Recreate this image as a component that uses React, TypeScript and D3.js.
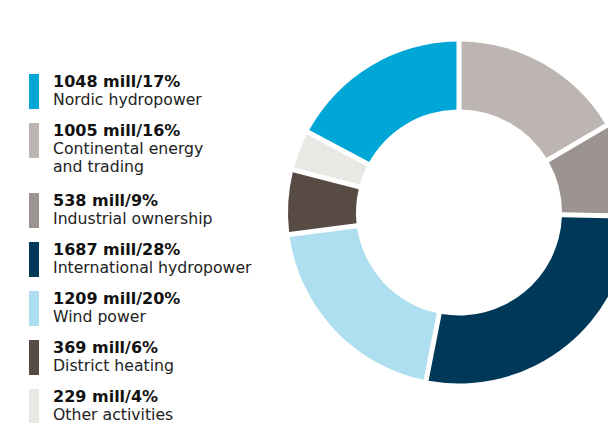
import React from 'react';
import * as d3 from 'd3';

// legend order
const labels = [
  ['Nordic hydropower'],
  ['Continental energy', 'and trading'],
  ['Industrial ownership'],
  ['International hydropower'],
  ['Wind power'],
  ['District heating'],
  ['Other activities'],
];
const values = [1048, 1005, 538, 1687, 1209, 369, 229];
const shares = [17, 16, 9, 28, 20, 6, 4];
const colors = ['#00a7d6', '#bcb5b1', '#9c9490', '#003859', '#aedff0', '#574b43', '#e9e8e4'];

const W = 608;
const H = 423;

const App = () => {
  const cx = 459;
  const cy = 212.5;
  const outer = 171;
  const inner = 103;

  const total = d3.sum(values);
  // Nordic slice ends at 12 o'clock, the rest follow clockwise from there
  const offset = (values[0] / total) * 2 * Math.PI;
  const pie = d3.pie<number>()
    .sort(null)
    .value(d => d)
    .startAngle(-offset)
    .endAngle(2 * Math.PI - offset);
  const arc = d3.arc<d3.PieArcDatum<number>>()
    .innerRadius(inner)
    .outerRadius(outer)
    .padRadius(outer)
    .padAngle(5 / outer);
  const slices = pie(values);

  // legend rows: 49px per item, 21px more for each extra text line
  const rowTop: number[] = [];
  let y = 74;
  labels.forEach(l => {
    rowTop.push(y);
    y += 49 + 21 * (l.length - 1);
  });

  return (
    <svg width={W} height={H} style={{ position: 'absolute', left: 0, top: 0, background: '#fff' }}>
      <g transform={`translate(${cx},${cy})`}>
        {slices.map((s, i) => (
          <path key={i} d={arc(s) || ''} fill={colors[i]} />
        ))}
      </g>
      <g fontFamily="'DejaVu Sans', sans-serif" fill="#1a1a1a">
        {labels.map((l, i) => (
          <g key={i} transform={`translate(0,${rowTop[i]})`}>
            <rect x={29} y={0} width={10} height={35} fill={colors[i]} />
            <text x={53} y={12.7} fontSize={16} fontWeight="bold" fill="#111">
              {`${values[i]} mill/${shares[i]}%`}
            </text>
            {l.map((t, j) => (
              <text key={j} x={53} y={31 + 18.3 * j} fontSize={15.7} fill="#222">{t}</text>
            ))}
          </g>
        ))}
      </g>
    </svg>
  );
};

export default App;
